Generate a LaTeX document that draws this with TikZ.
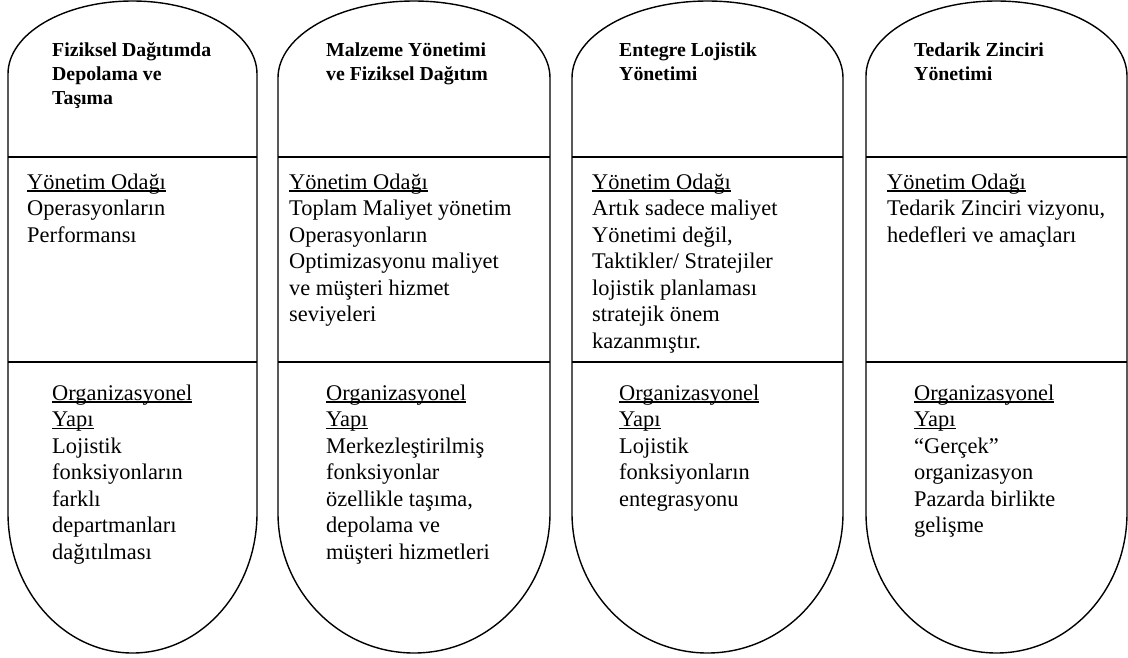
\documentclass[tikz,border=0pt]{standalone}
\usepackage{fontspec}
\setmainfont{Liberation Serif}
\newcommand{\undl}[1]{\setbox0\hbox{#1}\rlap{\rule[-2.6pt]{\wd0}{1.3pt}}\box0}
\begin{document}
% Text nodes are anchored at the baseline of their last line.
\begin{tikzpicture}[x=1pt,y=1pt,
  outline/.style={line width=1.4pt, draw=black},
  ttl/.style={anchor=base west, inner sep=0pt, align=left,
    font=\bfseries\fontsize{19.8}{24}\selectfont},
  bodytext/.style={anchor=base west, inner sep=0pt, align=left,
    font=\fontsize{22.4}{26.5}\selectfont}]
\useasboundingbox (0,0) rectangle (1128,-657);

% capsule outlines: elliptic top, straight sides, deep elliptic bottom
\draw[outline] (8,-74) arc[start angle=180, end angle=0, x radius=124.5, y radius=73]
  -- (257,-513) arc[start angle=0, end angle=-180, x radius=124.5, y radius=140] -- cycle;
\draw[outline] (278,-78) arc[start angle=180, end angle=0, x radius=136, y radius=77]
  -- (550,-513) arc[start angle=0, end angle=-180, x radius=136, y radius=140] -- cycle;
\draw[outline] (572,-78) arc[start angle=180, end angle=0, x radius=135.5, y radius=77]
  -- (843,-513) arc[start angle=0, end angle=-180, x radius=135.5, y radius=140] -- cycle;
\draw[outline] (866,-76) arc[start angle=180, end angle=0, x radius=130.5, y radius=75]
  -- (1127,-513) arc[start angle=0, end angle=-180, x radius=130.5, y radius=140] -- cycle;

% section dividers
\foreach \l/\r in {8/257, 278/550, 572/843, 866/1127} {
  \draw[outline] (\l,-157) -- (\r,-157);
  \draw[outline] (\l,-362) -- (\r,-362);
}

% column 1
\node[ttl] (t1) at (52,-104) {Fiziksel Dağıtımda\\Depolama ve\\Taşıma};
\node[bodytext] (f1) at (27,-242) {\undl{Yönetim Odağı}\\Operasyonların\\Performansı};
\node[bodytext] (o1) at (52,-559) {\undl{Organizasyonel}\\\undl{Yapı}\\Lojistik\\fonksiyonların\\farklı\\departmanları\\dağıtılması};

% column 2
\node[ttl] (t2) at (326,-80) {Malzeme Yönetimi\\ve Fiziksel Dağıtım};
\node[bodytext] (f2) at (289,-321.5) {\undl{Yönetim Odağı}\\Toplam Maliyet yönetim\\Operasyonların\\Optimizasyonu maliyet\\ve müşteri hizmet\\seviyeleri};
\node[bodytext] (o2) at (326,-559) {\undl{Organizasyonel}\\\undl{Yapı}\\Merkezleştirilmiş\\fonksiyonlar\\özellikle taşıma,\\depolama ve\\müşteri hizmetleri};

% column 3
\node[ttl] (t3) at (619,-80) {Entegre Lojistik\\Yönetimi};
\node[bodytext] (f3) at (592,-348) {\undl{Yönetim Odağı}\\Artık sadece maliyet\\Yönetimi değil,\\Taktikler/ Stratejiler\\lojistik planlaması\\stratejik önem\\kazanmıştır.};
\node[bodytext] (o3) at (619,-506) {\undl{Organizasyonel}\\\undl{Yapı}\\Lojistik\\fonksiyonların\\entegrasyonu};

% column 4
\node[ttl] (t4) at (914,-80) {Tedarik Zinciri\\Yönetimi};
\node[bodytext] (f4) at (887,-242) {\undl{Yönetim Odağı}\\Tedarik Zinciri vizyonu,\\hedefleri ve amaçları};
\node[bodytext] (o4) at (914,-532.5) {\undl{Organizasyonel}\\\undl{Yapı}\\“Gerçek”\\organizasyon\\Pazarda birlikte\\gelişme};
\end{tikzpicture}
\end{document}
